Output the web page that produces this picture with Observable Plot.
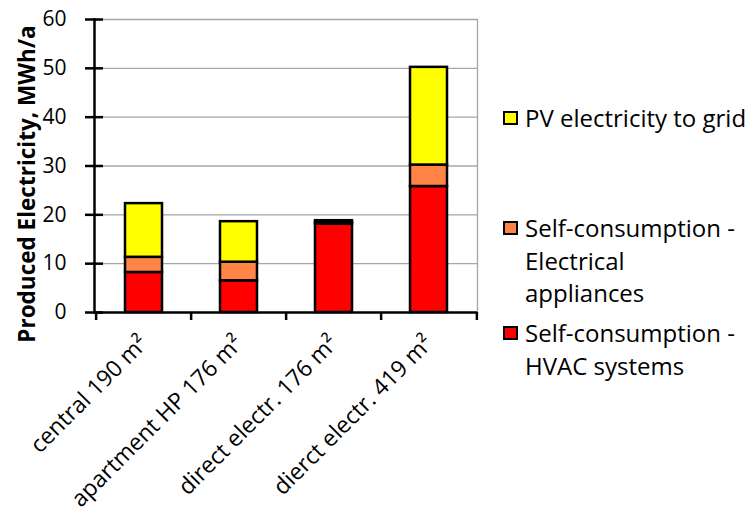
<!DOCTYPE html>
<html><head><meta charset="utf-8">
<script src="https://cdn.jsdelivr.net/npm/d3@7"></script>
<script src="https://cdn.jsdelivr.net/npm/@observablehq/plot@0.6"></script>
<style>
body{margin:0;background:#fff;}
#wrap{position:relative;width:752px;height:517px;font-family:"Open Sans", sans-serif;color:#000;background:#fff;overflow:hidden;}
#wrap svg{position:absolute;left:0;top:0;}
.leg{position:absolute;left:525px;font-size:24px;line-height:32.5px;white-space:nowrap;}
.sw{position:absolute;left:503px;width:11px;height:10px;border:2px solid #000;}
</style></head><body><div id="wrap"></div>
<script>
const categories = ["central 190 m²", "apartment HP 176 m²", "direct electr. 176 m²", "dierct electr. 419 m²"];
const seriesNames = ["Self-consumption - HVAC systems", "Self-consumption - Electrical appliances", "PV electricity to grid"];
const hvac = [8.2, 6.5, 18.1, 25.8];
const appliances = [3.1, 3.8, 0.35, 4.4];
const toGrid = [11.0, 8.3, 0.35, 20.0];
const colors = ["#ff0000", "#ff8445", "#ffff00"];
const yTicks = [0, 10, 20, 30, 40, 50, 60];
const yLabel = "Produced Electricity, MWh/a";

const seriesValues = [hvac, appliances, toGrid];
const rows = [];
categories.forEach((c, i) => seriesNames.forEach((s, j) => rows.push({category: c, series: s, value: seriesValues[j][i]})));

const W = 752, H = 517, mL = 94, mR = 275, mT = 19, mB = 205;
const bw = (W - mL - mR) / categories.length;

const chart = Plot.plot({
  width: W, height: H, marginLeft: mL, marginRight: mR, marginTop: mT, marginBottom: mB,
  style: {fontFamily: "'Open Sans', sans-serif", fontSize: "20px", color: "#000", background: "transparent", overflow: "visible"},
  x: {domain: categories, padding: 0, label: null},
  y: {domain: [0, 60], label: null},
  color: {domain: seriesNames, range: colors},
  marks: [
    Plot.gridY(yTicks.slice(1), {stroke: "#a6a6a6", strokeOpacity: 1, strokeWidth: 1.3}),
    Plot.frame({anchor: "right", stroke: "#a6a6a6", strokeWidth: 1.3}),
    Plot.barY(rows, {x: "category", y: "value", fill: "series", order: seriesNames, stroke: "#000", strokeWidth: 2.5, insetLeft: 29, insetRight: 29}),
    Plot.frame({anchor: "left", stroke: "#000", strokeWidth: 2.5}),
    Plot.ruleY([0], {stroke: "#000", strokeWidth: 2.5}),
    Plot.axisY({ticks: yTicks, tickSize: 18, dx: 9, tickPadding: 19, strokeWidth: 2.5, fontSize: 21, label: null}),
    Plot.axisX({tickSize: 0, tickRotate: -45, tickPadding: 27, fontSize: 23, label: null}),
    Plot.axisX({tickSize: 8, dx: -bw / 2, tickFormat: () => "", strokeWidth: 2.5, label: null}),
    Plot.axisX([categories[categories.length - 1]], {tickSize: 8, dx: bw / 2, tickFormat: () => "", strokeWidth: 2.5, label: null}),
    Plot.text([yLabel], {frameAnchor: "left", textAnchor: "middle", rotate: -90, dx: -67, dy: 18, fontWeight: "bold", fontSize: 22.5, fill: "#000"})
  ]
});
const wrap = document.getElementById("wrap");
wrap.appendChild(chart);

const legendItems = [
  {name: "PV electricity to grid", lines: ["PV electricity to grid"], color: colors[2], top: 102},
  {name: seriesNames[1], lines: ["Self-consumption -", "Electrical", "appliances"], color: colors[1], top: 212},
  {name: seriesNames[0], lines: ["Self-consumption -", "HVAC systems"], color: colors[0], top: 317}
];
legendItems.forEach(it => {
  const sw = document.createElement("div");
  sw.className = "sw";
  sw.style.background = it.color;
  sw.style.top = (it.top + 16 - 7) + "px";
  wrap.appendChild(sw);
  const t = document.createElement("div");
  t.className = "leg";
  t.style.top = it.top + "px";
  t.innerHTML = it.lines.join("<br>");
  wrap.appendChild(t);
});
</script></body></html>
